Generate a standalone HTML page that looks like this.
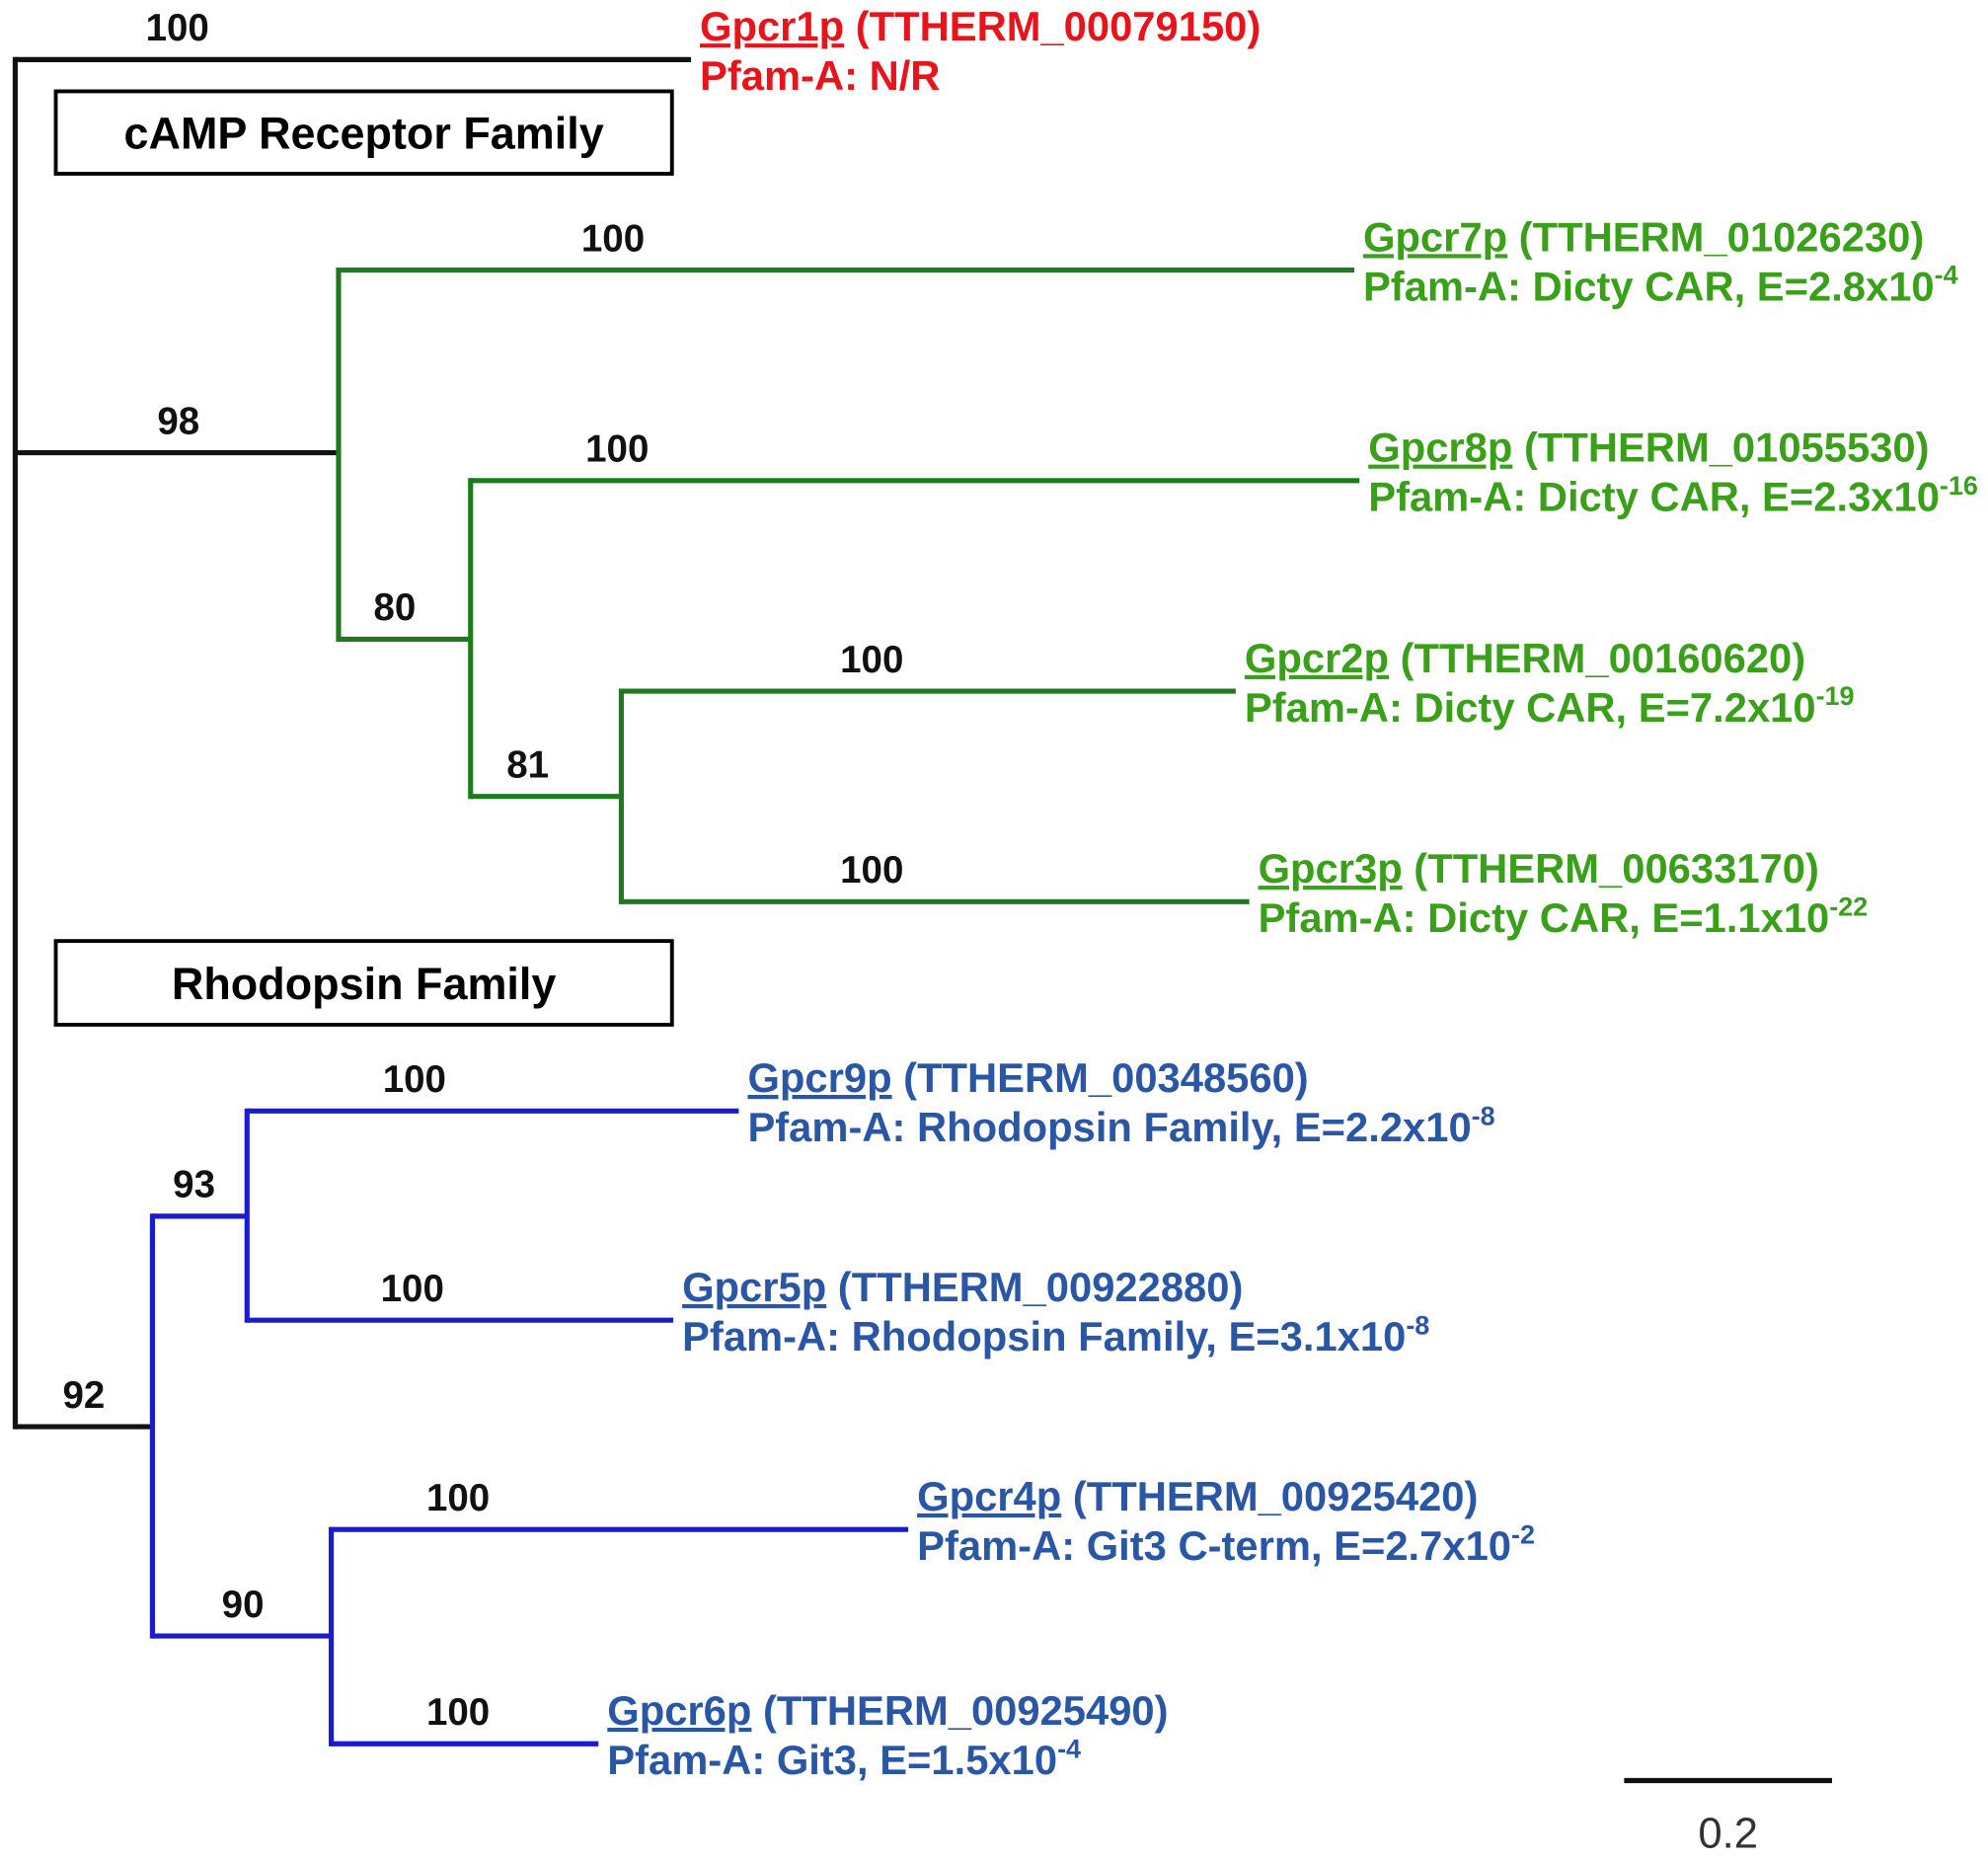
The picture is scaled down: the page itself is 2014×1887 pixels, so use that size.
<!DOCTYPE html>
<html><head><meta charset="utf-8"><style>
html,body{margin:0;padding:0;background:#fff;}
svg{display:block;}
text{font-family:"Liberation Sans",Arial,sans-serif;font-weight:bold;}
</style></head><body>
<svg id="tree" width="2014" height="1887" viewBox="0 0 1568 1469" preserveAspectRatio="none" xmlns="http://www.w3.org/2000/svg">
<rect x="0" y="0" width="1568" height="1469" fill="#fff"/>
<rect x="44" y="72" width="486" height="65" fill="#fff" stroke="#000" stroke-width="3"/>
<text x="287" y="117" text-anchor="middle" font-size="35" fill="#000">cAMP Receptor Family</text>
<rect x="44" y="742" width="486" height="66" fill="#fff" stroke="#000" stroke-width="3"/>
<text x="287" y="788" text-anchor="middle" font-size="35" fill="#000">Rhodopsin Family</text>
<g id="branches"></g>
<g id="labels"></g>
<line x1="1281" y1="1404" x2="1445" y2="1404" stroke="#111" stroke-width="4"/>
<text x="1363" y="1457" text-anchor="middle" font-size="34" style="font-weight:normal" fill="#333">0.2</text>
</svg>
<script>
// tree data: node ids, parent, branch-length depth (substitutions/site), bootstrap support
const nodeIds   = ["root","g1","n98","g7","n80","g8","n81","g2","g3","n92","n93","g9","g5","n90","g4","g6"];
const parents   = [null,"root","root","n98","n98","n80","n80","n81","n81","root","n92","n93","n93","n92","n90","n90"];
const depths    = [0,0.65,0.311,1.288,0.438,1.293,0.583,1.174,1.187,0.132,0.223,0.696,0.633,0.304,0.859,0.561];
const support   = ["","100","98","100","80","100","81","100","100","92","93","100","100","90","100","100"];
const rowY      = [510,47,357,213,504,379,628,545,711,1125,959,876,1041,1290,1206,1375];
const clade     = ["k","k","k","g","g","g","g","g","g","k","b","b","b","b","b","b"];
// bootstrap label positions along the branch, in tree units
const supportAt = [0,0.156,0.157,0.575,0.365,0.579,0.493,0.824,0.824,0.066,0.172,0.384,0.382,0.219,0.426,0.426];
const leafNames = {g1:"Gpcr1p",g7:"Gpcr7p",g8:"Gpcr8p",g2:"Gpcr2p",g3:"Gpcr3p",g9:"Gpcr9p",g5:"Gpcr5p",g4:"Gpcr4p",g6:"Gpcr6p"};
const leafIds   = {g1:"TTHERM_00079150",g7:"TTHERM_01026230",g8:"TTHERM_01055530",g2:"TTHERM_00160620",g3:"TTHERM_00633170",g9:"TTHERM_00348560",g5:"TTHERM_00922880",g4:"TTHERM_00925420",g6:"TTHERM_00925490"};
const leafPfam  = {g1:"N/R",g7:"Dicty CAR, E=2.8x10",g8:"Dicty CAR, E=2.3x10",g2:"Dicty CAR, E=7.2x10",g3:"Dicty CAR, E=1.1x10",g9:"Rhodopsin Family, E=2.2x10",g5:"Rhodopsin Family, E=3.1x10",g4:"Git3 C-term, E=2.7x10",g6:"Git3, E=1.5x10"};
const leafExp   = {g1:"",g7:"-4",g8:"-16",g2:"-19",g3:"-22",g9:"-8",g5:"-8",g4:"-2",g6:"-4"};

const X0=12, PXU=820;
function xs(d){return X0+d*PXU;}
const lineCol={k:"#111",g:"#1f7a1f",b:"#1a1ad0"};
const textCol={k:"#e8141c",g:"#3aa01a",b:"#2a56a6"};
const NS="http://www.w3.org/2000/svg";
const gB=document.getElementById("branches"), gL=document.getElementById("labels");
function idx(id){return nodeIds.indexOf(id);}
function mk(tag,attrs,parent){const e=document.createElementNS(NS,tag);for(const k in attrs)e.setAttribute(k,attrs[k]);parent.appendChild(e);return e;}

const rootKids=nodeIds.filter((n,i)=>parents[i]==="root").map(idx);
const rv=mk("line",{x1:xs(0),x2:xs(0),y1:Math.min(...rootKids.map(i=>rowY[i]))-2,y2:Math.max(...rootKids.map(i=>rowY[i]))+2,stroke:"#111","stroke-width":4},gB);



nodeIds.forEach((id,i)=>{
  if(!parents[i])return;
  const p=idx(parents[i]);
  const col=lineCol[clade[i]];
  const isLeaf=!!leafNames[id];
  const y=rowY[i];
  const h=mk("line",{x1:xs(depths[p]),x2:xs(depths[i]),y1:y,y2:y,stroke:col,"stroke-width":4},gB);
  
  
  if(!isLeaf){
    const kids=nodeIds.map((n,j)=>parents[j]===id?j:-1).filter(j=>j>=0);
    const v=mk("line",{x1:xs(depths[i]),x2:xs(depths[i]),y1:Math.min(...kids.map(j=>rowY[j]))-2,y2:Math.max(...kids.map(j=>rowY[j]))+2,stroke:lineCol[clade[kids[0]]],"stroke-width":4},gB);
    
    
  }
  const bt=mk("text",{x:xs(supportAt[i]),y:y-15,"text-anchor":"middle","font-size":30,fill:"#111"},gL);
  bt.textContent=support[i];
  
  
  if(isLeaf){
    const tx=xs(depths[i])+7, c=textCol[clade[i]];
    const t1=mk("text",{x:tx,y:y-15,"font-size":32.5,fill:c},gL);
    
    
    const a=mk("tspan",{"text-decoration":"underline"},t1); a.textContent=leafNames[id];
    const b=mk("tspan",{},t1); b.textContent=" ("+leafIds[id]+")";
    const t2=mk("text",{x:tx,y:y+24,"font-size":32.5,fill:c},gL);
    
    
    const p1=mk("tspan",{},t2); p1.textContent="Pfam-A: "+leafPfam[id];
    if(leafExp[id]){const p2=mk("tspan",{dy:-13,"font-size":21},t2); p2.textContent=leafExp[id];}
  }
});
</script>
</body></html>
